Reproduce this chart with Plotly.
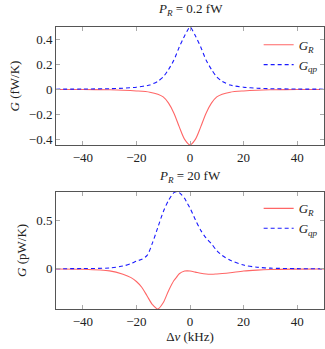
import plotly.graph_objects as go

# detuning (kHz)
x_top = [-50, -40, -30, -25, -20, -15, -12, -10, -8, -6, -4, -2, 0,
         2, 4, 6, 8, 10, 12, 15, 20, 25, 30, 40, 50]
# P_R = 0.2 fW, in fW/K
gR_top = [0, -0.001, -0.003, -0.006, -0.012, -0.022, -0.038, -0.06, -0.11, -0.19, -0.30, -0.40, -0.445,
          -0.40, -0.30, -0.19, -0.11, -0.06, -0.038, -0.022, -0.012, -0.006, -0.003, -0.001, 0]
gqp_top = [0.002, 0.003, 0.006, 0.01, 0.018, 0.035, 0.065, 0.10, 0.16, 0.235, 0.34, 0.43, 0.5,
           0.43, 0.34, 0.235, 0.16, 0.10, 0.065, 0.035, 0.018, 0.01, 0.006, 0.003, 0.002]

x_bot = [-50, -40, -30, -25, -22, -20, -18, -16, -14, -12, -10, -8, -6, -5, -4, -2, -1, 0,
         2, 4, 6, 8, 10, 12, 15, 20, 25, 30, 40, 50]
# P_R = 20 fW, in pW/K
gR_bot = [0, -0.003, -0.02, -0.055, -0.09, -0.13, -0.19, -0.28, -0.37, -0.415, -0.35, -0.225, -0.12, -0.085, -0.05, -0.022, -0.02, -0.022,
          -0.033, -0.045, -0.053, -0.055, -0.052, -0.048, -0.04, -0.022, -0.012, -0.006, -0.002, 0]
gqp_bot = [0.002, 0.004, 0.01, 0.03, 0.055, 0.08, 0.10, 0.14, 0.27, 0.43, 0.59, 0.71, 0.79, 0.80, 0.79, 0.73, 0.68, 0.63,
           0.51, 0.40, 0.32, 0.26, 0.19, 0.14, 0.09, 0.04, 0.018, 0.008, 0.003, 0.001]

red = "#ff6666"
blue = "#1a1aff"
font = "Liberation Serif"
fs = 13

fig = go.Figure()
fig.add_trace(go.Scatter(x=x_top, y=gR_top, mode="lines", name="<i>G<sub>R</sub></i>",
                         line=dict(color=red, width=1.1, shape="spline", smoothing=0.8), xaxis="x", yaxis="y", legend="legend"))
fig.add_trace(go.Scatter(x=x_top, y=gqp_top, mode="lines", name="<i>G<sub>qp</sub></i>",
                         line=dict(color=blue, width=1.1, dash="4px,3px", shape="spline", smoothing=0.6), xaxis="x", yaxis="y", legend="legend"))
fig.add_trace(go.Scatter(x=x_bot, y=gR_bot, mode="lines", name="<i>G<sub>R</sub></i>",
                         line=dict(color=red, width=1.1, shape="spline", smoothing=0.8), xaxis="x2", yaxis="y2", legend="legend2"))
fig.add_trace(go.Scatter(x=x_bot, y=gqp_bot, mode="lines", name="<i>G<sub>qp</sub></i>",
                         line=dict(color=blue, width=1.1, dash="4px,3px", shape="spline", smoothing=0.8), xaxis="x2", yaxis="y2", legend="legend2"))

ax = dict(showgrid=False, zeroline=False, showline=True, linecolor="#555", linewidth=1,
          mirror="ticks", ticks="inside", ticklen=4, tickcolor="#aaa", automargin=False,
          tickfont=dict(family=font, size=fs, color="#222"))

fig.update_layout(
    width=325, height=349,
    margin=dict(l=56, r=1, t=27, b=40),
    plot_bgcolor="white", paper_bgcolor="white",
    font=dict(family=font, color="#222"),
    hovermode=False,
    xaxis=dict(ax, domain=[0, 1], range=[-50, 50], tickvals=[-40, -20, 0, 20, 40], anchor="y"),
    yaxis=dict(ax, domain=[0.5816, 1], range=[-0.445, 0.5], tickvals=[-0.4, -0.2, 0, 0.2, 0.4],
               ticktext=["−0.4", "−0.2", "0", "0.2", "0.4"], anchor="x",
               title=dict(text="<i>G</i> (fW/K)", font=dict(family=font, size=fs), standoff=6)),
    xaxis2=dict(ax, domain=[0, 1], range=[-50, 50], tickvals=[-40, -20, 0, 20, 40], anchor="y2",
                title=dict(text="Δ<i>ν</i> (kHz)", font=dict(family=font, size=fs), standoff=4)),
    yaxis2=dict(ax, domain=[0, 0.416], range=[-0.415, 0.8], tickvals=[0, 0.5], anchor="x2",
                title=dict(text="<i>G</i> (pW/K)", font=dict(family=font, size=fs), standoff=6)),
    legend=dict(x=0.995, y=0.99, xanchor="right", yanchor="top", bgcolor="rgba(0,0,0,0)",
                font=dict(family=font, size=fs), tracegroupgap=0, itemwidth=30),
    legend2=dict(x=0.995, y=0.41, xanchor="right", yanchor="top", bgcolor="rgba(0,0,0,0)",
                 font=dict(family=font, size=fs), tracegroupgap=0, itemwidth=30),
    annotations=[
        dict(text="<i>P<sub>R</sub></i> = 0.2 fW", x=0.5, y=1, xref="paper", yref="paper",
             yanchor="bottom", yshift=7, showarrow=False, font=dict(family=font, size=fs)),
        dict(text="<i>P<sub>R</sub></i> = 20 fW", x=0.5, y=0.416, xref="paper", yref="paper",
             yanchor="bottom", yshift=5, showarrow=False, font=dict(family=font, size=fs)),
    ],
)

fig.write_html("out.html", config={"displayModeBar": False},
               post_script="document.body.style.margin='0';document.body.style.overflow='hidden';")
